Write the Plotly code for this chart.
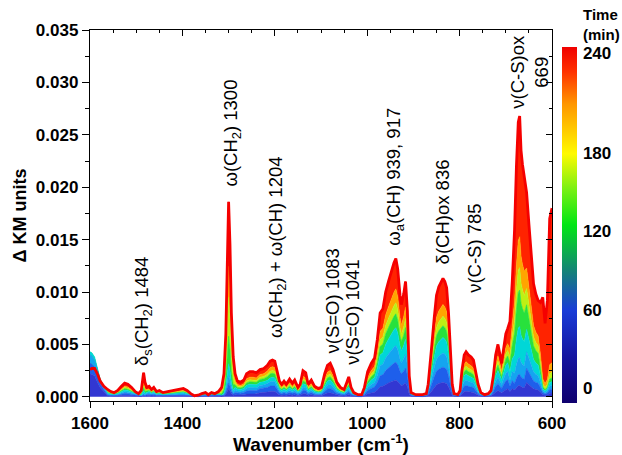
import numpy as np
import plotly.graph_objects as go

UNIT = 1e-4  # spectra below are in units of 1e-4 KM

wn = [1600,1596,1590,1584,1578,1570,1562,1555,1548,1540,
      1532,1525,1518,1510,1502,1495,1489,1486,1484,1481,
      1477,1472,1467,1462,1456,1450,1442,1432,1420,1408,
      1398,1390,1382,1374,1366,1358,1350,1344,1337,1330,
      1322,1315,1310,1306,1303,1300,1297,1294,1290,1286,
      1281,1274,1267,1261,1254,1247,1240,1232,1224,1216,
      1210,1205,1200,1195,1190,1185,1180,1175,1168,1162,
      1157,1150,1145,1139,1133,1128,1121,1114,1106,1099,
      1092,1086,1080,1074,1066,1058,1050,1044,1040,1035,
      1029,1020,1012,1006,999,991,984,978,972,966,
      960,954,948,942,938,934,929,926,921,917,
      913,909,905,895,880,872,868,864,860,855,
      850,845,840,836,832,828,824,820,816,812,
      804,799,795,790,786,781,775,770,765,760,
      754,746,738,732,727,722,717,713,709,705,
      700,696,691,686,681,677,673,670,667,664,
      660,655,650,645,640,635,630,625,620,615,
      610,605,600]

s030 = [22,21,20,14,9,5,.8,.6,.5,.7,
        1.2,1.6,1.4,1.1,.6,.4,.2,.6,.9,.6,
        1.1,1.2,.8,1.1,.6,.7,.5,.6,.7,.8,
        1,.7,.4,.1,.2,.4,.5,.2,.5,.4,
        .6,.4,.9,2.4,5,7.4,5.8,3.2,1.5,2,
        1.8,1.7,1.9,2.6,2.9,2.9,2.8,3.9,4,4.5,
        5.1,5.3,5.1,3.6,1.8,1.4,1.8,1.4,2,1.6,
        1.9,1.1,1.4,3,2.8,1.4,1.9,1.2,1,1.1,
        2.6,3.6,3.8,3.1,1.7,1.1,.8,1.7,2.3,1.1,
        .5,.2,.2,1.1,2.9,3.8,4.4,6.6,9.6,10.1,
        12,13.2,14.4,15.4,15.8,14.6,11.6,10.6,11.8,13.2,
        9.8,2.4,.5,.2,.2,.4,1.4,3.4,6,9,
        11.6,12.6,13.2,13.6,13.2,12.5,9.6,5.4,1.4,.4,
        .2,.7,3,4.8,5.2,4.8,4.6,4.2,2.9,1.4,
        .5,.2,.4,.7,2.4,4.8,6,5,3.8,5.4,
        7.2,7.8,5,7.7,6.4,8.8,10.5,10.7,9.4,8.9,
        8.4,13.7,11.6,9.5,7.6,6.9,6.4,4.5,1.9,1.4,
        1.8,3.4,3.6]

s060 = [32,31,28,20,13,7,1.8,1.3,1,1.5,
        2.5,3.3,3,2.3,1.3,.8,.5,1.3,1.8,1.1,
        2.3,2.5,1.8,2.3,1.3,1.5,1,1.3,1.5,1.8,
        2,1.5,.8,.3,.4,.8,1,.5,1,.8,
        1.3,.6,1.5,4.2,8.8,13,10.2,5.6,2.7,4,
        3.8,3.5,4,5.5,6,6,5.8,7.8,8.1,9,
        10.2,10.5,10.2,7.2,3.8,3,3.8,3,4.3,3.3,
        4,2.3,3,6.3,5.8,3,4,2.5,2,2.3,
        5.5,7.5,8,6.5,3.5,2.3,1.8,3.5,4.8,2.3,
        1,.5,.5,2.3,6,8,9.3,13.8,20,21,
        25,27.5,30,32,33,30.5,24.3,22,24.5,27.5,
        20.5,5,1,.5,.5,.8,3,7,12.5,18.8,
        24.3,26.3,27.5,28.3,27.5,26,20,11.3,3,.8,
        .5,1.5,6.3,10,10.8,10,9.5,8.8,6,3,
        1,.5,.8,1.5,5,10,12.5,10.5,8,11.3,
        15,16.3,10.1,15.4,12.8,17.6,21,21.4,18.8,17.8,
        16.8,27.3,23.1,18.9,15.1,13.7,12.9,9,3.8,2.8,
        3.7,6.8,7.2]

s090 = [40,39,35,25,16,9,2.6,1.9,1.5,2.2,
        3.7,4.8,4.4,3.3,1.9,1.1,.8,2.2,3.2,2,
        3.3,3.7,2.6,3.3,1.9,2.2,1.5,1.9,2.2,2.6,
        3,2.2,1.1,.4,.6,1.1,1.5,.7,1.5,1.1,
        1.9,1,2.4,6.6,13.8,20.5,16,8.8,4.2,6.5,
        5.6,5.2,5.9,8.1,8.9,8.9,8.5,10.9,11.3,12.6,
        14.3,14.7,14.3,10.1,5.6,4.4,5.6,4.4,6.3,4.8,
        5.9,3.3,4.4,9.3,8.5,4.4,5.9,3.7,3,3.3,
        8.1,11.1,11.8,9.6,5.2,3.3,2.6,5.2,7,3.3,
        1.5,.7,.7,3.3,8.9,11.8,13.7,20.4,29.6,31.1,
        37,40.7,44.4,47.4,48.8,45.1,35.9,32.6,36.3,40.7,
        30.3,7.4,1.5,.7,.7,1.1,4.4,10.4,18.5,27.8,
        35.9,38.9,40.7,41.8,40.7,38.5,29.6,16.7,4.4,1.1,
        .7,2.2,9.3,14.8,15.9,14.8,14.1,13,8.9,4.4,
        1.5,.7,1.1,2.2,7.4,14.8,18.5,15.5,11.8,16.7,
        22.2,24.1,15.8,24.2,22.4,30.8,36.7,37.5,32.9,31.1,
        29.4,42.9,36.3,29.7,23.8,21.6,20.2,13.5,5.7,4.2,
        5.5,10.2,10.8]

s120 = [43,42,38,28,17,10,3.5,2.5,2,3,
        5,6.5,6,4.5,2.5,1.5,1.5,4,5.8,3.5,
        4.5,5,3.5,4.5,2.5,3,2,2.5,3,3.5,
        4,3,1.5,.5,.8,1.5,2,1,2,1.5,
        2.5,1.5,3.7,10.2,21.3,31.6,24.7,13.6,6.5,9,
        7.5,7,8,11,12,12,11.5,13.8,14.3,15.9,
        18,18.6,18,12.7,7.5,6,7.5,6,8.5,6.5,
        8,4.5,6,12.5,11.5,6,8,5,4,4.5,
        11,15,16,13,7,4.5,3.5,7,9.5,4.5,
        2,1,1,4.5,12,16,18.5,27.5,40,42,
        50,55,60,64,66,61,48.5,44,49,55,
        41,10,2,1,1,1.5,6,14,25,37.5,
        48.5,52.5,55,56.5,55,52,40,22.5,6,1.5,
        1,3,12.5,20,21.5,20,19,17.5,12,6,
        2,1,1.5,3,10,20,25,21,16,22.5,
        30,32.5,23.8,36.3,40,55,65.5,67,58.8,55.5,
        52.5,64.4,54.5,44.6,35.6,32.3,30.4,19.8,7.6,5.6,
        7.4,13.6,14.4]

s150 = [40,39,36,27,16.5,10,4.2,3,2.4,3.6,
        6,7.8,7.2,5.4,3,1.8,2.3,6.1,8.7,5.3,
        5.4,6,4.2,5.4,3,3.6,2.4,3,3.6,4.2,
        4.8,3.6,1.8,.6,.9,1.8,2.4,1.2,2.4,1.8,
        3,2.8,6.8,18.6,38.8,57.7,45,24.8,11.8,11.5,
        9,8.4,9.6,13.2,14.4,14.4,13.8,16.6,17.3,19.2,
        21.8,22.4,21.8,15.4,9,7.2,9,7.2,10.2,7.8,
        9.6,5.4,7.2,15,13.8,7.2,9.6,6,4.8,5.4,
        13.2,18,19.2,15.6,8.4,5.4,4.2,8.4,11.4,5.4,
        2.4,1.2,1.2,5.4,14.4,19.2,22.2,33,48,50.4,
        60,66,72,76.8,79.2,73.2,58.2,52.8,58.8,66,
        49.2,12,2.4,1.2,1.2,1.8,7.2,16.8,30,45,
        58.2,63,66,67.8,66,62.4,48,27,7.2,1.8,
        1.2,3.6,15,24,25.8,24,22.8,21,14.4,7.2,
        2.4,1.2,1.8,3.6,12,24,30,25.2,19.2,27,
        36,39,32.4,49.5,60.8,83.6,99.6,101.8,89.3,84.4,
        79.8,87.8,74.3,60.8,48.6,44.1,41.4,27,9.5,7,
        9.2,17,18]

s180 = [36,35,33,26,16,10,4.8,3.4,2.7,4.1,
        6.8,8.8,8.2,6.1,3.4,2,2.8,7.4,10.6,6.4,
        6.1,6.8,4.8,6.1,3.4,4.1,2.7,3.4,4.1,4.8,
        5.4,4.1,2,.7,1,2,2.7,1.4,2.7,2,
        3.4,4.6,11.2,30.6,63.8,94.9,74,40.8,19.4,14,
        10.2,9.5,10.9,15,16.3,16.3,15.6,18.7,19.4,21.6,
        24.5,25.2,24.5,17.3,10.2,8.2,10.2,8.2,11.6,8.8,
        10.9,6.1,8.2,17,15.6,8.2,10.9,6.8,5.4,6.1,
        15,20.4,21.8,17.7,9.5,6.1,4.8,9.5,12.9,6.1,
        2.7,1.4,1.4,6.1,16.3,21.8,25.2,37.4,54.4,57.1,
        68,74.8,81.6,87,89.8,83,66,59.8,66.6,74.8,
        55.8,13.6,2.7,1.4,1.4,2,8.2,19,34,51,
        66,71.4,74.8,76.8,74.8,70.7,54.4,30.6,8.2,2,
        1.4,4.1,17,27.2,29.2,27.2,25.8,23.8,16.3,8.2,
        2.7,1.4,2,4.1,13.6,27.2,34,28.6,21.8,30.6,
        40.8,44.2,38.2,58.3,73.6,101,120.5,123.3,108.1,102.1,
        96.6,103.4,87.5,71.6,57.2,51.9,48.8,32.4,12.4,9.1,
        12,22.1,23.4]

s210 = [31,30,30,24,15.5,10,5.5,3.9,3.1,4.7,
        7.8,10.1,9.4,7,3.9,2.3,3.4,9.1,13.1,8,
        7,7.8,5.5,7,3.9,4.7,3.1,3.9,4.7,5.5,
        6.2,4.7,2.3,.8,1.2,2.3,3.1,1.6,3.1,2.3,
        3.9,6,14.7,40.2,83.8,124.6,97.2,53.6,25.5,17,
        11.7,10.9,12.5,17.2,18.7,18.7,17.9,21.3,22.1,24.6,
        27.9,28.7,27.9,19.7,11.7,9.4,11.7,9.4,13.3,10.1,
        12.5,7,9.4,19.5,17.9,9.4,12.5,7.8,6.2,7,
        17.2,23.4,25,20.3,10.9,7,5.5,10.9,14.8,7,
        3.1,1.6,1.6,7,18.7,25,28.9,42.9,62.4,65.5,
        78,85.8,93.6,99.8,103,95.2,75.7,68.6,76.4,85.8,
        64,15.6,3.1,1.6,1.6,2.3,9.4,21.8,39,58.5,
        75.7,81.9,85.8,88.1,85.8,81.1,62.4,35.1,9.4,2.3,
        1.6,4.7,19.5,31.2,33.5,31.2,29.6,27.3,18.7,9.4,
        3.1,1.6,2.3,4.7,15.6,31.2,39,32.8,25,35.1,
        46.8,50.7,45.4,69.3,91.2,125,149,152.8,134,126.5,
        119.7,122.9,104,85.1,68,61.7,58,40.5,17.1,12.6,
        16.6,30.6,32.4]

s240 = [26,27,27,22,15,10,7,5,4,6,
        10,13,12,9,5,3,6,16,23,14,
        9,10,7,9,5,6,4,5,6,7,
        8,6,3,1,1.5,3,4,2,4,3,
        5,9,22,60,125,186,145,80,38,22,
        15,14,16,22,24,24,23,26,27,30,
        34,35,34,24,15,12,15,12,17,13,
        16,9,12,25,23,12,16,10,8,9,
        22,30,32,26,14,9,7,14,19,9,
        4,2,2,9,24,32,37,55,80,84,
        100,110,120,128,132,122,97,88,98,110,
        82,20,4,2,2,3,12,28,50,75,
        97,105,110,113,110,104,80,45,12,3,
        2,6,25,40,43,40,38,35,24,12,
        4,2,3,6,20,40,50,42,32,45,
        60,65,72,110,160,220,262,268,235,222,
        210,195,165,135,108,98,92,90,95,70,
        92,170,180]

times = [30, 60, 90, 120, 150, 180, 210, 240]
spectra = [s030, s060, s090, s120, s150, s180, s210, s240]
for s in spectra:
    assert len(s) == len(wn), len(s)

band_colors = ["rgb(50,55,210)", "rgb(30,95,235)", "rgb(20,165,240)", "rgb(0,215,215)",
               "rgb(40,225,60)", "rgb(190,240,20)", "rgb(255,165,0)", "rgb(255,35,0)"]

colorscale = [[0.0, "rgb(15,0,110)"], [0.13, "rgb(20,20,160)"], [0.26, "rgb(25,60,215)"],
              [0.37, "rgb(20,130,120)"], [0.50, "rgb(0,230,20)"], [0.60, "rgb(120,240,20)"],
              [0.70, "rgb(255,250,0)"], [0.84, "rgb(255,150,0)"], [0.93, "rgb(255,50,0)"],
              [1.0, "rgb(240,0,0)"]]

cbar_ticktext = ["0", "60", "120", "180", "240"]

fig = go.Figure()
ys = [np.array(s) * UNIT for s in spectra]

# bands between consecutive spectra (drawn from latest to earliest)
for i in range(len(ys) - 1, 0, -1):
    fig.add_trace(go.Scatter(x=wn, y=ys[i - 1], mode="lines", line=dict(width=0, color=band_colors[i]),
                             hoverinfo="skip", showlegend=False))
    fig.add_trace(go.Scatter(x=wn, y=ys[i], mode="lines", line=dict(width=0.6, color=band_colors[i]),
                             fill="tonexty", fillcolor=band_colors[i], hoverinfo="skip", showlegend=False))
fig.add_trace(go.Scatter(x=wn, y=ys[0], mode="lines", line=dict(width=0.6, color=band_colors[0]),
                         fill="tozeroy", fillcolor=band_colors[0], hoverinfo="skip", showlegend=False))
# final spectrum
fig.add_trace(go.Scatter(x=wn, y=ys[-1], mode="lines", line=dict(width=2.8, color="rgb(245,0,0)"),
                         hoverinfo="skip", showlegend=False))

# colorbar carrier on the mirror axes
fig.add_trace(go.Scatter(
    x=[1000], y=[0.01], xaxis="x2", yaxis="y2", mode="markers", hoverinfo="skip", showlegend=False,
    marker=dict(size=0.1, opacity=0, color=[0], colorscale=colorscale, cmin=-11.5, cmax=261,
                showscale=True,
                colorbar=dict(x=1.0216, xanchor="left", y=0.4744, yanchor="middle",
                              xpad=0, ypad=0,
                              thickness=15, thicknessmode="pixels", len=356, lenmode="pixels",
                              outlinewidth=0, tickvals=[0, 60, 120, 180, 256], ticktext=cbar_ticktext,
                              ticks="outside", ticklen=3, tickcolor="rgba(0,0,0,0)",
                              tickfont=dict(family="Liberation Sans, Arial", size=17, color="black", weight=700)))))

FONT = "Liberation Sans, Arial"
tickfont = dict(family=FONT, size=17, color="black", weight=700)
XR = [1600, 600]
YR = [-0.0004, 0.035]

fig.update_layout(
    width=622, height=455, margin=dict(l=90, r=70, t=30, b=54, autoexpand=False),
    plot_bgcolor="white", paper_bgcolor="white", showlegend=False,
    xaxis=dict(range=XR, tick0=600, dtick=200, ticks="outside", ticklen=6, tickwidth=1.3, tickcolor="black",
               minor=dict(dtick=50, ticks="outside", ticklen=3, tickwidth=1.2, tickcolor="black", showgrid=False),
               showline=True, linewidth=1.4, linecolor="black", showgrid=False, zeroline=False,
               tickfont=tickfont,
               title=dict(text="Wavenumber (cm<sup>-1</sup>)", standoff=6,
                          font=dict(family=FONT, size=19, color="black", weight=700))),
    yaxis=dict(range=YR, tick0=0, dtick=0.005, tickformat=".3f", ticks="outside", ticklen=7, tickwidth=1.3,
               tickcolor="black",
               minor=dict(dtick=0.0025, ticks="outside", ticklen=4, tickwidth=1.2, tickcolor="black", showgrid=False),
               showline=True, linewidth=1.4, linecolor="black", showgrid=False, zeroline=False,
               tickfont=tickfont,
               title=dict(text="Δ KM units", standoff=4,
                          font=dict(family=FONT, size=18, color="black", weight=700))),
    xaxis2=dict(range=XR, overlaying="x", side="top", anchor="y", tick0=600, dtick=200, ticks="inside",
                ticklen=6, tickwidth=1.3, tickcolor="black",
                minor=dict(dtick=50, ticks="inside", ticklen=3, tickwidth=1.2, tickcolor="black", showgrid=False),
                showticklabels=False, showline=True, linewidth=1.4, linecolor="black", showgrid=False,
                zeroline=False),
    yaxis2=dict(range=YR, overlaying="y", side="right", anchor="x", tick0=0, dtick=0.005, ticks="inside",
                ticklen=6, tickwidth=1.3, tickcolor="black",
                minor=dict(dtick=0.0025, ticks="inside", ticklen=3, tickwidth=1.2, tickcolor="black", showgrid=False),
                showticklabels=False, showline=True, linewidth=1.4, linecolor="black", showgrid=False,
                zeroline=False),
)

ann_font = dict(family=FONT, size=18.5, color="black")
labels = [
    ("δ<sub>s</sub>(CH<sub>2</sub>) 1484", 1485, 0.0081),
    ("ω(CH<sub>2</sub>) 1300", 1293, 0.0252),
    ("ω(CH<sub>2</sub>) + ω(CH) 1204", 1195, 0.0143),
    ("ν(S=O) 1083", 1076, 0.0091),
    ("ν(S=O) 1041", 1031, 0.0081),
    ("ω<sub>a</sub>(CH) 939, 917", 940, 0.0210),
    ("δ(CH)ox 836", 838, 0.0176),
    ("ν(C-S) 785", 767, 0.0142),
    ("ν(C-S)ox<br>669", 648, 0.0310),
]
for text, x, y in labels:
    fig.add_annotation(text=text, x=x, y=y, xref="x", yref="y", textangle=-90, showarrow=False,
                       xanchor="center", yanchor="middle", font=ann_font, align="center")

fig.add_annotation(text="Time<br>(min)", xref="paper", yref="paper", x=1.0628, y=1.0135,
                   xanchor="left", yanchor="middle", showarrow=False, align="left",
                   font=dict(family=FONT, size=15, color="black", weight=700))

fig.write_html("out.html")
